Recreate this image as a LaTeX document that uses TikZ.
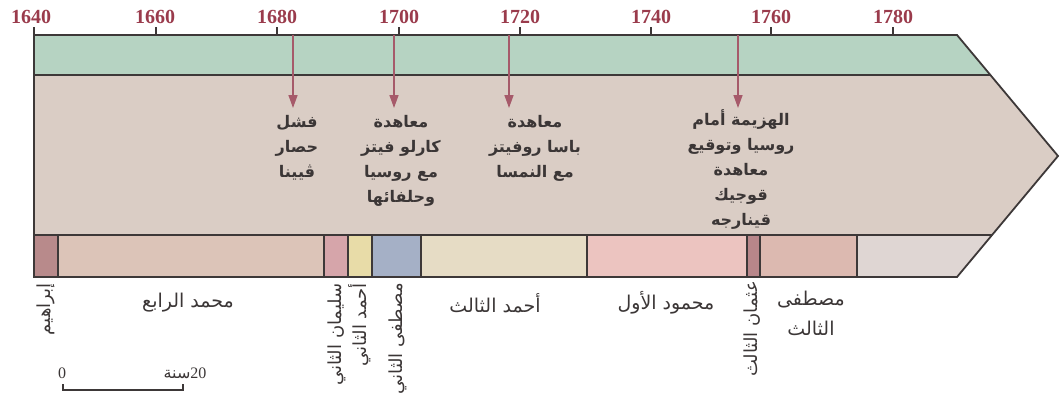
\documentclass[tikz,border=0pt]{standalone}
\usepackage{fontspec}
\setmainfont{Liberation Serif}
\newfontfamily\arabicfont[Script=Arabic]{DejaVu Sans}
\TeXXeTstate=1
\usetikzlibrary{arrows.meta}
\newcommand\arline[1]{\beginR #1\endR}
\definecolor{bandgreen}{HTML}{B6D3C2}
\definecolor{bandbeige}{HTML}{DACDC5}
\definecolor{outline}{HTML}{3D3838}
\definecolor{yearred}{HTML}{9A3B4C}
\definecolor{arrowrose}{HTML}{A65A6A}
\definecolor{txtgrey}{HTML}{3B3636}
\definecolor{cIbr}{HTML}{B88A8B}
\definecolor{cMehIV}{HTML}{DCC4B8}
\definecolor{cSulII}{HTML}{D6A5AA}
\definecolor{cAhmII}{HTML}{E8DCA8}
\definecolor{cMusII}{HTML}{A5B0C6}
\definecolor{cAhmIII}{HTML}{E6DCC5}
\definecolor{cMahI}{HTML}{ECC4C0}
\definecolor{cOsmIII}{HTML}{B8868A}
\definecolor{cMusIII}{HTML}{DCB9B0}
\definecolor{cLast}{HTML}{DFD6D3}
\tikzset{
  border/.style={draw=outline, line width=1.8pt, line join=miter},
  sep/.style={draw=outline, line width=1.4pt},
  tickmark/.style={draw=outline, line width=1.4pt},
  yearlabel/.style={text=yearred, font=\fontsize{20}{21}\selectfont\bfseries, inner sep=0pt},
  evarrow/.style={draw=arrowrose, line width=1.5pt, -{Triangle[width=9pt,length=13pt]}},
  eventtext/.style={text=txtgrey, align=center, anchor=north, inner sep=0pt,
     font=\arabicfont\bfseries\fontsize{16}{25}\selectfont},
  reigntext/.style={text=txtgrey, align=center, inner sep=0pt,
     font=\arabicfont\fontsize{19}{30}\selectfont},
  reignrot/.style={text=txtgrey, inner sep=0pt, rotate=90, anchor=east,
     font=\arabicfont\fontsize{18}{20}\selectfont},
  scaletext/.style={text=txtgrey, font=\fontsize{16}{17}\selectfont, inner sep=0pt},
}
\begin{document}
\begin{tikzpicture}[x=1pt,y=-1pt]
\useasboundingbox (0,0) rectangle (1060,394);
% main arrow bands
\fill[bandbeige] (34,35) -- (957,35) -- (1058,156) -- (957,277) -- (34,277) -- cycle;
\fill[bandgreen] (34,35) -- (957,35) -- (990.4,75) -- (34,75) -- cycle;
% reign boxes
\fill[cIbr] (34,235) rectangle (58,277);
\fill[cMehIV] (58,235) rectangle (324,277);
\fill[cSulII] (324,235) rectangle (348,277);
\fill[cAhmII] (348,235) rectangle (372,277);
\fill[cMusII] (372,235) rectangle (421,277);
\fill[cAhmIII] (421,235) rectangle (587,277);
\fill[cMahI] (587,235) rectangle (747,277);
\fill[cOsmIII] (747,235) rectangle (760,277);
\fill[cMusIII] (760,235) rectangle (857,277);
\fill[cLast] (857,235) -- (992,235) -- (957,277) -- (857,277) -- cycle;
\foreach \x in {58,324,348,372,421,587,747,760,857}
  \draw[sep] (\x,235) -- (\x,277);
\draw[sep] (34,75) -- (990.4,75);
\draw[sep] (34,235) -- (992.1,235);
\draw[border] (34,27) -- (34,277) -- (957,277) -- (1058,156) -- (957,35) -- (34,35);
% ticks and years
\foreach \x/\yr in {156/1660,277/1680,399/1700,520/1720,651/1740,771/1760,893/1780}
  \draw[tickmark] (\x,27) -- (\x,35);
\node[yearlabel] (y1640) at (31,17) {1640};
\node[yearlabel] (y1660) at (155,17) {1660};
\node[yearlabel] (y1680) at (277,17) {1680};
\node[yearlabel] (y1700) at (399,17) {1700};
\node[yearlabel] (y1720) at (520,17) {1720};
\node[yearlabel] (y1740) at (651,17) {1740};
\node[yearlabel] (y1760) at (771,17) {1760};
\node[yearlabel] (y1780) at (893,17) {1780};
% event arrows
\coordinate (t1) at (293,35); \coordinate (b1) at (293,108);
\coordinate (t2) at (394,35); \coordinate (b2) at (394,108);
\coordinate (t3) at (509,35); \coordinate (b3) at (509,108);
\coordinate (t4) at (738,35); \coordinate (b4) at (738,108);
\draw[evarrow] (t1) -- (b1);
\draw[evarrow] (t2) -- (b2);
\draw[evarrow] (t3) -- (b3);
\draw[evarrow] (t4) -- (b4);
% event texts
\node[eventtext] (e1) at (297,115) {\arline{فشل}\\\arline{حصار}\\\arline{ڤيينا}};
\node[eventtext] (e2) at (401,115) {\arline{معاهدة}\\\arline{كارلو فيتز}\\\arline{مع روسيا}\\\arline{وحلفائها}};
\node[eventtext] (e3) at (535,115) {\arline{معاهدة}\\\arline{باسا روفيتز}\\\arline{مع النمسا}};
\node[eventtext] (e4) at (741,109) {\arline{الهزيمة أمام}\\\arline{روسيا وتوقيع}\\\arline{معاهدة}\\\arline{قوجيك}\\\arline{قينارجه}};
% reign labels
\node[reignrot] (r1) at (46,283) {\arline{إبراهيم}};
\node[reigntext] (r2) at (188,303) {\arline{محمد الرابع}};
\node[reignrot] (r3) at (337,283) {\arline{سليمان الثاني}};
\node[reignrot] (r4) at (360,283) {\arline{أحمد الثاني}};
\node[reignrot] (r5) at (398,283) {\arline{مصطفى الثاني}};
\node[reigntext] (r6) at (495,303) {\arline{أحمد الثالث}};
\node[reigntext] (r7) at (666,303) {\arline{محمود الأول}};
\node[reignrot] (r8) at (752,281) {\arline{عثمان الثالث}};
\node[reigntext, anchor=north] (r9) at (811,291) {\arline{مصطفى}\\\arline{الثالث}};
% scale bar
\node[scaletext] (s0) at (62,373) {0};
\node[scaletext] (s20) at (185,373) {{\arabicfont\beginR سنة\endR}20};
\coordinate (sa) at (63,384); \coordinate (sb) at (183,384);
\draw[outline, line width=1.2pt] (sa) -- (63,390) -- (183,390) -- (sb);
\end{tikzpicture}
\end{document}
